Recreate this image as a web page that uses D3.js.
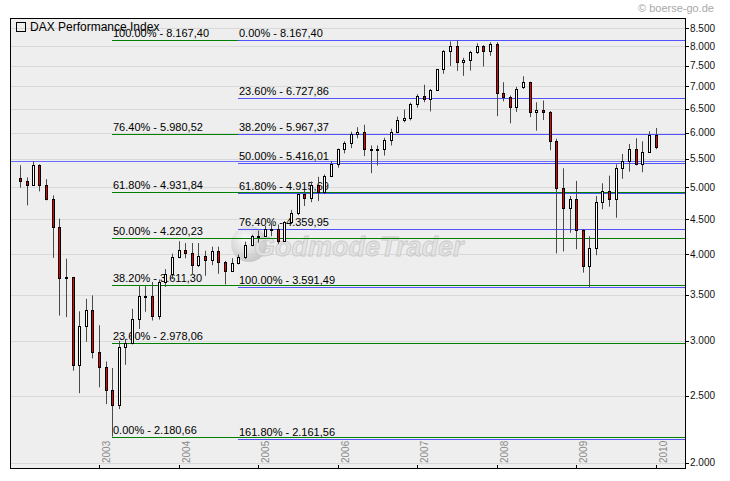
<!DOCTYPE html>
<html><head><meta charset="utf-8">
<script src="https://cdn.jsdelivr.net/npm/d3@7"></script>
<style>
body{margin:0;background:#fff;}
svg{display:block;}
text{font-family:"Liberation Sans",Arial,sans-serif;}
</style>
</head><body>
<svg id="c" width="730" height="481"></svg>
<script>
// ---------- DATA ----------
const months = ["2002-01","2002-02","2002-03","2002-04","2002-05","2002-06","2002-07","2002-08","2002-09","2002-10","2002-11","2002-12",
"2003-01","2003-02","2003-03","2003-04","2003-05","2003-06","2003-07","2003-08","2003-09","2003-10","2003-11","2003-12",
"2004-01","2004-02","2004-03","2004-04","2004-05","2004-06","2004-07","2004-08","2004-09","2004-10","2004-11","2004-12",
"2005-01","2005-02","2005-03","2005-04","2005-05","2005-06","2005-07","2005-08","2005-09","2005-10","2005-11","2005-12",
"2006-01","2006-02","2006-03","2006-04","2006-05","2006-06","2006-07","2006-08","2006-09","2006-10","2006-11","2006-12",
"2007-01","2007-02","2007-03","2007-04","2007-05","2007-06","2007-07","2007-08","2007-09","2007-10","2007-11","2007-12",
"2008-01","2008-02","2008-03","2008-04","2008-05","2008-06","2008-07","2008-08","2008-09","2008-10","2008-11","2008-12",
"2009-01","2009-02","2009-03","2009-04","2009-05","2009-06","2009-07","2009-08","2009-09","2009-10","2009-11","2009-12",
"2010-01"];
const openV = [5160,5107,5039,5397,5041,4818,4383,3700,3712,2769,3153,3320,
2893,2748,2547,2424,2942,2982,3221,3487,3485,3257,3655,3746,
3965,4058,4018,3856,3985,3921,4052,3895,3785,3892,3960,4126,
4256,4254,4350,4349,4185,4460,4586,4886,4829,5044,4929,5193,
5408,5674,5797,5970,6009,5692,5683,5682,5860,6004,6269,6309,
6597,6789,6716,6917,7409,7883,8007,7584,7638,7862,8020,7871,
8067,6852,6748,6535,6990,7097,6418,6480,6422,5831,4988,4669,
4810,4338,3844,4085,4769,4941,4809,5332,5458,5675,5414,5625,
5957];
const highV = [5384,5170,5460,5400,5140,4870,4506,3943,3712,3310,3450,3490,
3160,2800,2740,3000,3019,3337,3600,3600,3650,3680,3810,4010,
4180,4155,4155,4155,4050,4105,4105,3915,3950,4000,4175,4272,
4330,4400,4435,4420,4470,4640,4900,4955,5100,5180,5220,5460,
5690,5830,6020,6110,6160,5750,5750,5900,6080,6330,6480,6630,
6820,7040,6940,7420,7900,8130,8167.4,7700,7880,8080,8030,8110,
8110,7100,6790,6990,7240,7110,6640,6680,6450,5880,5330,4860,
5110,4350,4250,4860,5070,5200,5400,5590,5780,5890,5830,6030,
6094];
const lowV = [4995,4710,5025,4935,4790,3955,3263,3247,2716,2520,2990,2830,
2570,2430,2181,2390,2770,2965,3121,3305,3210,3220,3590,3686,
3950,3950,3735,3835,3725,3860,3750,3620,3780,3870,3940,4110,
4160,4240,4250,4140,4170,4450,4560,4700,4760,4780,4890,5180,
5340,5600,5700,5890,5550,5243,5380,5560,5750,5990,6210,6250,
6520,6640,6440,6900,7300,7490,7370,7250,7380,7800,7480,7750,
6340,6660,6190,6430,6940,6320,6040,6260,5660,4014,4040,4300,
4070,3765,3589,3990,4650,4690,4520,5146,5270,5380,5260,5610,
5680];
const closeV = [5107,5039,5397,5041,4818,4383,3700,3712,2769,3153,3320,2893,
2748,2547,2424,2942,2982,3221,3487,3485,3257,3655,3746,3965,
4058,4018,3856,3985,3921,4052,3895,3785,3892,3960,4126,4256,
4254,4350,4349,4185,4460,4586,4886,4829,5044,4929,5193,5408,
5674,5797,5970,6009,5692,5683,5682,5860,6004,6269,6309,6597,
6789,6716,6917,7409,7883,8007,7584,7638,7862,8020,7871,8067,
6852,6748,6535,6949,7110,6418,6480,6422,5831,4988,4669,4810,
4338,3844,4085,4769,4941,4809,5332,5458,5675,5414,5625,5957,
5725];

const yTickValues = [2000,2500,3000,3500,4000,4500,5000,5500,6000,6500,7000,7500,8000,8500];
const yearTicks = [2003,2004,2005,2006,2007,2008,2009,2010];

const greenFibPct = ["100.00%","76.40%","61.80%","50.00%","38.20%","23.60%","0.00%"];
const greenFibVal = [8167.40,5980.52,4931.84,4220.23,3611.30,2978.06,2180.66];
const blueFibPct = ["0.00%","23.60%","38.20%","50.00%","61.80%","76.40%","100.00%","161.80%"];
const blueFibVal = [8167.40,6727.86,5967.37,5416.01,4915.69,4359.95,3591.49,2161.56];
const greenFibStart = "2003-03";
const blueFibStart = "2004-10";
const extraLineVal = 5460;

const seriesName = "DAX Performance Index";
const copyright = "\u00A9 boerse-go.de";
const watermark = "GodmodeTrader";

// ---------- CHART ----------
const svg = d3.select("#c");
const L = 10, T = 18, R = 685, B = 468;
const parse = d3.timeParse("%Y-%m");
const de = d3.formatLocale({decimal:",", thousands:".", grouping:[3], currency:["","€"]});
const fmtTick = de.format(",");
const fmtFib = de.format(",.2f");

const x = d3.scaleTime().domain([new Date(2002,0,1), new Date(2010,0,1)]).range([19.8, 655.7]);
const y = d3.scaleLog().domain([2000,8500]).range([462.6, 28.1]);
const py = v => Math.round(y(v)) + 0.5;

svg.append("rect").attr("width",730).attr("height",481).attr("fill","#fff");
svg.append("rect").attr("x",L).attr("y",T).attr("width",R-L).attr("height",B-T).attr("fill","#eeeeee");

// gridlines
svg.append("g").selectAll("line").data(yTickValues).join("line")
  .attr("x1",L).attr("x2",R)
  .attr("y1",py).attr("y2",py)
  .attr("stroke","#d9d9d9").attr("stroke-width",1);

// watermark
const defs = svg.append("defs");
const rg = defs.append("radialGradient").attr("id","rg").attr("cx","40%").attr("cy","35%").attr("r","65%");
rg.append("stop").attr("offset","0%").attr("stop-color","#ffffff");
rg.append("stop").attr("offset","100%").attr("stop-color","#b8b8b8");
svg.append("circle").attr("cx",249).attr("cy",244).attr("r",18).attr("fill","url(#rg)").attr("opacity",0.7);
svg.append("text").attr("x",254).attr("y",256).text(watermark)
  .attr("font-size",27).attr("font-weight","bold").attr("font-style","italic")
  .attr("fill","#e2e2e2").attr("stroke","#c6c6c6").attr("stroke-width",0.8).attr("opacity",0.9);

// fib lines and labels
const gx0 = x(parse(greenFibStart)), bx0 = x(parse(blueFibStart));
const greenG = svg.append("g");
const blueG = svg.append("g");
greenG.selectAll("line").data(greenFibVal).join("line")
  .attr("x1",Math.round(gx0)).attr("x2",R)
  .attr("y1",py).attr("y2",py)
  .attr("stroke","#008000").attr("stroke-width",1);
blueG.append("line").attr("x1",L).attr("x2",R)
  .attr("y1",py(extraLineVal)).attr("y2",py(extraLineVal))
  .attr("stroke","#6a6aff").attr("stroke-width",1);
blueG.selectAll("line.fib").data(blueFibVal).join("line").attr("class","fib")
  .attr("x1",Math.round(bx0)).attr("x2",R)
  .attr("y1",py).attr("y2",py)
  .attr("stroke","#5252ff").attr("stroke-width",1);
greenG.selectAll("text").data(greenFibVal).join("text")
  .attr("x",Math.round(gx0)+1).attr("y",d=>Math.round(y(d))-3)
  .attr("font-size",11).attr("fill","#000")
  .text((d,i)=>greenFibPct[i]+" - "+fmtFib(d));
blueG.selectAll("text").data(blueFibVal).join("text")
  .attr("x",Math.round(bx0)+1).attr("y",d=>Math.round(y(d))-3)
  .attr("font-size",11).attr("fill","#000")
  .text((d,i)=>blueFibPct[i]+" - "+fmtFib(d));

// candles
const data = months.map((m,i)=>({d:parse(m),o:openV[i],h:highV[i],l:lowV[i],c:closeV[i]}));
const cg = svg.append("g");
data.forEach(k=>{
  const r = Math.round(x(k.d));
  cg.append("line").attr("x1",r+0.5).attr("x2",r+0.5)
    .attr("y1",y(k.h)).attr("y2",y(k.l)).attr("stroke","#4a4a4a").attr("stroke-width",1);
  const t = Math.round(y(Math.max(k.o,k.c))), b = Math.round(y(Math.min(k.o,k.c)));
  cg.append("rect").attr("x",r-1).attr("y",t).attr("width",3).attr("height",Math.max(2,b-t+1)).attr("fill","#000");
  if (b-t >= 2) {
    cg.append("rect").attr("x",r).attr("y",t+1).attr("width",1).attr("height",b-t-1)
      .attr("fill", k.c>=k.o ? "#ffffff" : "#ee0000");
  }
});

// frame
svg.append("rect").attr("x",L+0.5).attr("y",T+0.5).attr("width",R-L).attr("height",B-T)
  .attr("fill","none").attr("stroke","#000").attr("stroke-width",1);

// right axis
const ra = svg.append("g");
ra.selectAll("line").data(yTickValues).join("line")
  .attr("x1",R+0.5).attr("x2",R+4)
  .attr("y1",py).attr("y2",py)
  .attr("stroke","#000");
ra.selectAll("text").data(yTickValues).join("text")
  .attr("x",R+5).attr("y",d=>y(d)+3.6)
  .attr("font-size",10).attr("fill","#111")
  .text(d=>fmtTick(d));

// year axis
const xa = svg.append("g");
yearTicks.forEach(yr=>{
  const tx = Math.round(x(new Date(yr,0,1)));
  xa.append("line").attr("x1",tx+0.5).attr("x2",tx+0.5).attr("y1",B-3).attr("y2",B).attr("stroke","#000");
  xa.append("text").attr("transform",`translate(${tx+11},${B-5}) rotate(-90)`)
    .attr("font-size",10).attr("fill","#8a8a8a").text(yr);
});

// legend
svg.append("rect").attr("x",16.5).attr("y",22.5).attr("width",9).attr("height",9)
  .attr("fill","none").attr("stroke","#000");
svg.append("text").attr("x",30).attr("y",31).attr("font-size",12).attr("fill","#000").text(seriesName);

// copyright
svg.append("text").attr("x",714).attr("y",12).attr("text-anchor","end")
  .attr("font-size",11).attr("fill","#a8a8a8").text(copyright);
</script>
</body></html>
